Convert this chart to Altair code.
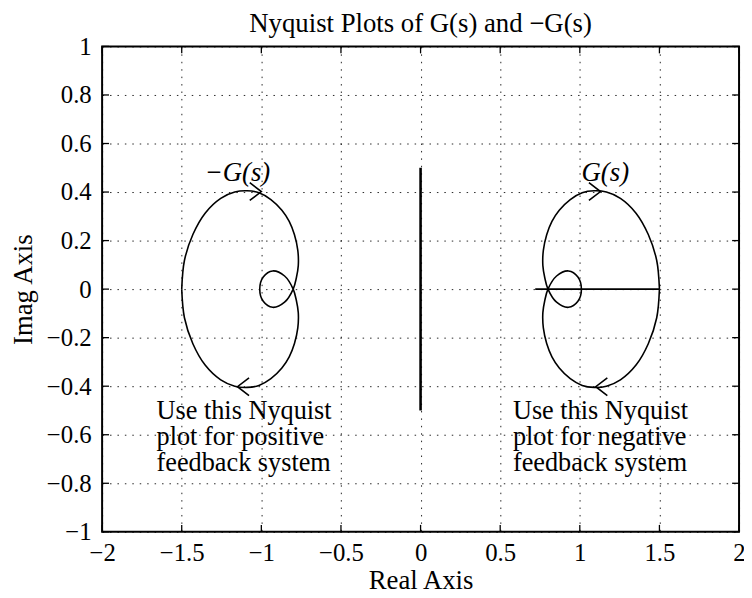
import altair as alt
import pandas as pd

# ---- data ----
# G(s) Nyquist curve (closed, with inner loop)
g_x = [1.50, 1.483, 1.43, 1.353, 1.255, 1.167, 1.09, 1.015, 0.94, 0.871, 0.825, 0.792, 0.771, 0.768, 0.78,
       0.80, 0.854, 0.929, 0.988, 1.01, 0.988, 0.929, 0.854, 0.80,
       0.78, 0.768, 0.771, 0.792, 0.825, 0.871, 0.94, 1.015, 1.09, 1.167, 1.255, 1.353, 1.43, 1.483, 1.50]
g_y = [0.00, 0.118, 0.225, 0.313, 0.374, 0.400, 0.405, 0.397, 0.369, 0.325, 0.279, 0.224, 0.160, 0.097, 0.047,
       0.00, -0.054, -0.075, -0.050, 0.00, 0.050, 0.075, 0.054, 0.00,
       -0.047, -0.097, -0.160, -0.224, -0.279, -0.325, -0.369, -0.397, -0.405, -0.400, -0.374, -0.313, -0.225, -0.118, 0.00]
# -G(s) is the same curve negated
neg_g_x = [-v for v in g_x]
neg_g_y = [-v for v in g_y]

# real-axis segment drawn with G(s)
seg_x = [0.72, 1.50]
seg_y = [0.0, 0.0]
# vertical separator at x = 0
sep_x = [0.0, 0.0]
sep_y = [0.5, -0.5]

# arrow heads (tip positions)
right_arrow_x = [1.13, -1.00]
right_arrow_y = [0.402, 0.402]
left_arrow_x = [1.10, -1.15]
left_arrow_y = [-0.402, -0.402]

# labels
curve_labels = ["G(s)", "\u2212G(s)"]
curve_label_x = [1.16, -1.15]
curve_label_y = [0.478, 0.478]

note_lines_left = ["Use this Nyquist", "plot for positive", "feedback system"]
note_lines_right = ["Use this Nyquist", "plot for negative", "feedback system"]
note_y = [-0.535, -0.643, -0.751]   # baselines
note_left_x = -1.658
note_right_x = 0.58

x_ticks = [-2, -1.5, -1, -0.5, 0, 0.5, 1, 1.5, 2]
y_ticks = [-1, -0.8, -0.6, -0.4, -0.2, 0, 0.2, 0.4, 0.6, 0.8, 1]

title_text = "Nyquist Plots of G(s) and \u2212G(s)"

FONT = "Liberation Serif"
W, H = 643, 490

# ---- tables ----
curves = pd.DataFrame({
    "x": g_x + neg_g_x + seg_x + sep_x,
    "y": g_y + neg_g_y + seg_y + sep_y,
    "curve": ["G"] * len(g_x) + ["negG"] * len(neg_g_x) + ["seg"] * 2 + ["sep"] * 2,
    "order": list(range(len(g_x))) + list(range(len(neg_g_x))) + [0, 1] + [0, 1],
})
r_arrows = pd.DataFrame({"x": right_arrow_x, "y": right_arrow_y})
l_arrows = pd.DataFrame({"x": left_arrow_x, "y": left_arrow_y})
lab = pd.DataFrame({"x": curve_label_x, "y": curve_label_y, "t": curve_labels})
notes = pd.DataFrame({
    "x": [note_left_x] * 3 + [note_right_x] * 3,
    "y": note_y + note_y,
    "t": note_lines_left + note_lines_right,
})
xt = pd.DataFrame({"x": x_ticks})
yt = pd.DataFrame({"y": y_ticks})

xs = alt.Scale(domain=[-2, 2], nice=False, zero=False)
ys = alt.Scale(domain=[-1, 1], nice=False, zero=False)

x_axis = alt.Axis(values=x_ticks, format="~g", grid=True, gridDash=[1.5, 6], gridColor="black",
                  gridOpacity=0.85, gridWidth=1, tickSize=0, domain=False, labelFont=FONT,
                  labelFontSize=25, labelColor="black", labelPadding=9, labelFlush=False,
                  labelOverlap=False, title="Real Axis", titleFont=FONT, titleFontSize=27,
                  titleFontWeight="normal", titleColor="black", titleY=49, titleBaseline="middle")
y_axis = alt.Axis(values=y_ticks, format="~g", grid=True, gridDash=[1.5, 6], gridColor="black",
                  gridOpacity=0.85, gridWidth=1, tickSize=0, domain=False, labelFont=FONT,
                  labelFontSize=25, labelColor="black", labelPadding=11, labelFlush=False,
                  labelOverlap=False, title="Imag Axis", titleFont=FONT, titleFontSize=27,
                  titleFontWeight="normal", titleColor="black", titleX=-79, titleBaseline="middle")

X = alt.X("x:Q", scale=xs, axis=x_axis)
Y = alt.Y("y:Q", scale=ys, axis=y_axis)

lines = alt.Chart(curves).mark_line(color="black", interpolate="catmull-rom").encode(
    x=X, y=Y,
    detail="curve:N",
    order="order:Q",
    strokeWidth=alt.condition(alt.datum.curve == "sep", alt.value(2.6), alt.value(1.6)),
)

right_path = "M-1.3,-1L0,0L-1.3,1"
left_path = "M1.3,-1L0,0L1.3,1"
ra = alt.Chart(r_arrows).mark_point(shape=right_path, filled=False, color="black", strokeWidth=1.6,
                                     size=324, opacity=1).encode(x=X, y=Y)
la = alt.Chart(l_arrows).mark_point(shape=left_path, filled=False, color="black", strokeWidth=1.6,
                                     size=324, opacity=1).encode(x=X, y=Y)

labels = alt.Chart(lab).mark_text(font=FONT, fontSize=27, fontStyle="italic", color="black",
                                  align="center", baseline="middle").encode(x=X, y=Y, text="t:N")
note_text = alt.Chart(notes).mark_text(font=FONT, fontSize=26.5, color="black",
                                       align="left", baseline="alphabetic").encode(x=X, y=Y, text="t:N")

# inward ticks on all four sides
tb = alt.Chart(xt).mark_rule(color="black", strokeWidth=1.3).encode(
    x=X, y=alt.value(H), y2=alt.value(H - 7))
tt = alt.Chart(xt).mark_rule(color="black", strokeWidth=1.3).encode(
    x=X, y=alt.value(0), y2=alt.value(7))
tl = alt.Chart(yt).mark_rule(color="black", strokeWidth=1.3).encode(
    y=Y, x=alt.value(0), x2=alt.value(7))
tr = alt.Chart(yt).mark_rule(color="black", strokeWidth=1.3).encode(
    y=Y, x=alt.value(W), x2=alt.value(W - 7))

chart = alt.layer(lines, ra, la, labels, note_text, tb, tt, tl, tr).properties(
    width=W, height=H,
    background="white",
    title=alt.TitleParams(title_text, font=FONT, fontSize=27, fontWeight="normal", color="black",
                          anchor="middle", offset=0, dy=3),
    autosize=alt.AutoSizeParams(type="none"),
    padding={"left": 95, "top": 36, "right": 5, "bottom": 62},
).configure_view(stroke="black", strokeWidth=2)

chart.save("out.html", embed_options={"renderer": "svg", "actions": False})
